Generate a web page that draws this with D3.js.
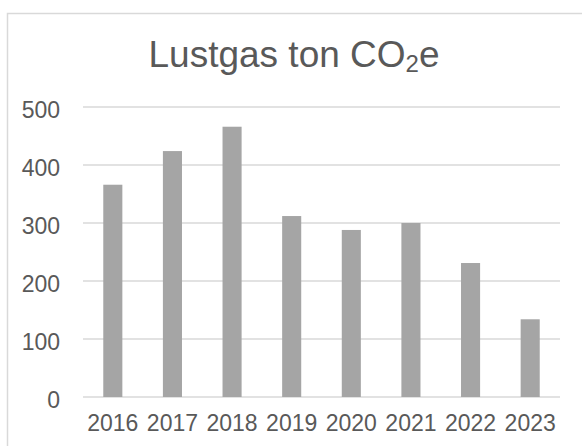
<!DOCTYPE html>
<html>
<head>
<meta charset="utf-8">
<script src="https://cdn.jsdelivr.net/npm/d3@7"></script>
<style>
  body { margin: 0; background: #fff; }
  svg { display: block; font-family: Arial, "Liberation Sans", sans-serif; }
</style>
</head>
<body>
<div id="vis"></div>
<script>
// Data
const years = ["2016", "2017", "2018", "2019", "2020", "2021", "2022", "2023"];
const values = [366, 424, 466, 312, 288, 300, 231, 134];
const yTicks = [0, 100, 200, 300, 400, 500];

const W = 582, H = 446;
const svg = d3.select("#vis").append("svg")
  .attr("width", W)
  .attr("height", H);

// chart border (cropped on right and bottom)
svg.append("rect")
  .attr("x", 7.5)
  .attr("y", 13.5)
  .attr("width", 600)
  .attr("height", 500)
  .attr("fill", "#fff")
  .attr("stroke", "#d9d9d9")
  .attr("stroke-width", 1.5);

const margin = { left: 83, right: 22, top: 107, bottom: 49 };
const plotW = W - margin.left - margin.right;
const plotH = H - margin.top - margin.bottom;

const g = svg.append("g")
  .attr("transform", `translate(${margin.left},${margin.top})`);

const x = d3.scaleBand()
  .domain(years)
  .range([0, plotW])
  .paddingInner(0.68)
  .paddingOuter(0.34);

const y = d3.scaleLinear()
  .domain([0, 500])
  .range([plotH, 0]);

// gridlines
g.append("g")
  .selectAll("line")
  .data(yTicks)
  .join("line")
  .attr("x1", 0)
  .attr("x2", plotW)
  .attr("y1", d => y(d))
  .attr("y2", d => y(d))
  .attr("stroke", "#d9d9d9")
  .attr("stroke-width", 1.5);

// bars
g.selectAll("rect.bar")
  .data(values)
  .join("rect")
  .attr("class", "bar")
  .attr("x", (d, i) => x(years[i]))
  .attr("y", d => y(d))
  .attr("width", x.bandwidth())
  .attr("height", d => plotH - y(d))
  .attr("fill", "#a5a5a5");

// y axis labels
const yAxis = g.append("g")
  .call(d3.axisLeft(y).tickValues(yTicks).tickSize(0).tickPadding(23));
yAxis.select(".domain").remove();
yAxis.selectAll("text")
  .attr("fill", "#595959")
  .attr("font-size", "23px")
  .attr("font-family", "Arial, 'Liberation Sans', sans-serif")
  .attr("dy", "0.45em");

// x axis labels
const xAxis = g.append("g")
  .attr("transform", `translate(0,${plotH})`)
  .call(d3.axisBottom(x).tickSize(0).tickPadding(18));
xAxis.select(".domain").remove();
xAxis.selectAll("text")
  .attr("fill", "#595959")
  .attr("font-size", "23px")
  .attr("font-family", "Arial, 'Liberation Sans', sans-serif");

// title
const title = svg.append("text")
  .attr("x", 294)
  .attr("y", 67)
  .attr("text-anchor", "middle")
  .attr("fill", "#595959")
  .attr("font-size", "37px");
title.append("tspan").text("Lustgas ton CO");
title.append("tspan").attr("font-size", "24px").attr("dy", 5).text("2");
title.append("tspan").attr("dy", -5).text("e");
</script>
</body>
</html>
